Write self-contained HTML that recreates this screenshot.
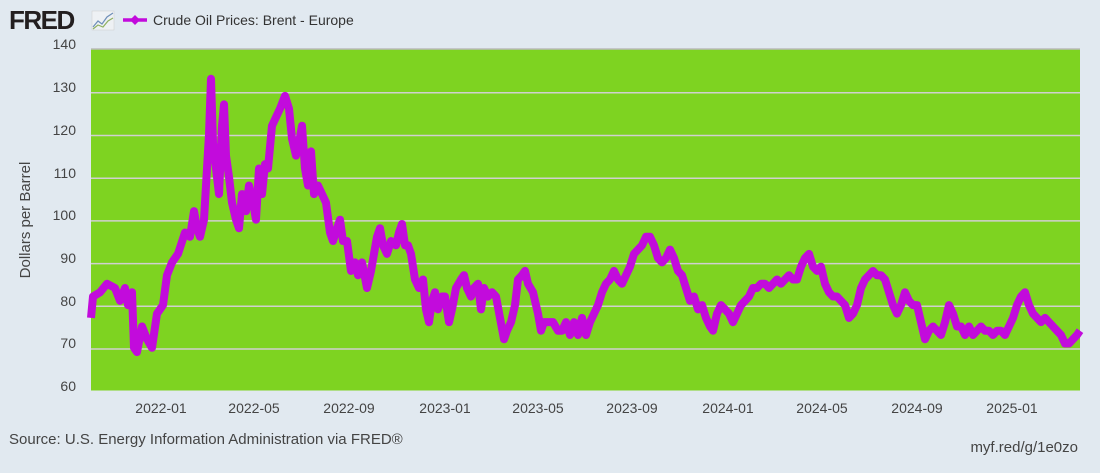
<!DOCTYPE html>
<html><head><meta charset="utf-8"><style>
body{margin:0;width:1100px;height:473px;background:#e1e9f0;font-family:"Liberation Sans",sans-serif;overflow:hidden}
</style></head><body>
<svg width="1100" height="473" xmlns="http://www.w3.org/2000/svg" style="position:absolute;left:0;top:0">
<text x="9" y="29" font-size="26" font-weight="bold" fill="#231f20" letter-spacing="-1.5">FRED</text>
<rect x="92" y="11" width="22" height="19" fill="#eef1f4" stroke="#ccc" stroke-width="0.5"/>
<polyline points="93,27 98,21 102,24 107,17 113,13" fill="none" stroke="#6f8fb8" stroke-width="1.2"/>
<polyline points="93,29 98,25 103,27 108,21 113,18" fill="none" stroke="#8fb060" stroke-width="1.2"/>
<line x1="123" y1="20" x2="147" y2="20" stroke="#c20bdc" stroke-width="3.5"/>
<polygon points="135,15 140,20 135,25 130,20" fill="#c20bdc"/>
<text x="153" y="25" font-size="14" fill="#333">Crude Oil Prices: Brent - Europe</text>
<rect x="91" y="49" width="989" height="341.5" fill="#7ed321"/>
<line x1="91" y1="49" x2="1080" y2="49" stroke="#bbb" stroke-width="1.5"/>
<g stroke="#d0d0d0" stroke-width="1.5">
<line x1="91" y1="92.8" x2="1080" y2="92.8"/><line x1="91" y1="135.5" x2="1080" y2="135.5"/>
<line x1="91" y1="178.2" x2="1080" y2="178.2"/><line x1="91" y1="220.9" x2="1080" y2="220.9"/>
<line x1="91" y1="263.6" x2="1080" y2="263.6"/><line x1="91" y1="306.3" x2="1080" y2="306.3"/>
<line x1="91" y1="349" x2="1080" y2="349"/>
</g>
<g font-size="14" fill="#444" text-anchor="end">
<text x="76" y="49">140</text><text x="76" y="92">130</text><text x="76" y="135">120</text>
<text x="76" y="178">110</text><text x="76" y="220">100</text><text x="76" y="263">90</text>
<text x="76" y="306">80</text><text x="76" y="348">70</text><text x="76" y="391">60</text>
</g>
<text transform="translate(30,220) rotate(-90)" font-size="15" fill="#444" text-anchor="middle">Dollars per Barrel</text>
<g font-size="14" fill="#444" text-anchor="middle">
<text x="161" y="413">2022-01</text><text x="254" y="413">2022-05</text><text x="349" y="413">2022-09</text>
<text x="445" y="413">2023-01</text><text x="538" y="413">2023-05</text><text x="632" y="413">2023-09</text>
<text x="728" y="413">2024-01</text><text x="822" y="413">2024-05</text><text x="917" y="413">2024-09</text>
<text x="1012" y="413">2025-01</text>
</g>
<text x="9" y="444" font-size="15" fill="#444">Source: U.S. Energy Information Administration via FRED®</text>
<text x="1078" y="452" font-size="15" fill="#444" text-anchor="end">myf.red/g/1e0zo</text>
<g transform="translate(0,390.5) scale(1,-4.27) translate(0,-60)">
<polyline fill="none" stroke="#c20bdc" stroke-width="8" stroke-linejoin="round" vector-effect="non-scaling-stroke" points="91,77 93,82 100,83 107,85 115,84 120,81 125,84 128,80 132,83 134,70 137,69 142,75 147,72 152,70 157,78 163,80 167,87 172,90 178,92 185,97 190,96 194,102 197,98 200,96 204,100 207,112 209,120 211,133 213,118 216,112 219,106 222,122 224,127 226,115 229,110 232,104 236,100 239,98 242,106 246,102 249,108 253,104 256,100 259,112 262,106 265,113 268,112 272,122 276,124 280,126 285,129 289,126 292,119 296,115 299,118 302,122 305,112 308,108 311,116 314,106 318,108 322,106 326,104 330,97 333,95 337,98 340,100 343,95 347,95 351,88 355,90 358,87 362,90 367,84 371,88 374,92 377,96 380,98 383,94 387,92 391,95 396,94 399,97 402,99 405,94 408,94 411,92 415,86 419,84 423,86 426,79 429,76 432,81 435,83 438,79 442,82 445,82 449,76 452,79 456,84 461,86 464,87 467,84 471,82 474,84 478,85 481,79 484,84 488,82 492,83 496,82 500,77 504,72 507,74 511,76 515,80 518,86 522,87 525,88 528,85 533,83 538,78 541,74 544,76 548,76 553,76 558,74 562,74 566,76 570,73 574,76 578,73 582,77 586,73 590,76 594,78 598,80 602,83 606,85 610,86 614,88 618,86 622,85 626,87 630,89 634,92 638,93 642,94 646,96 650,96 654,94 658,91 662,90 666,91 670,93 674,91 678,88 682,87 686,84 690,81 694,82 698,79 702,80 706,77 710,75 713,74 717,78 721,80 725,79 729,78 733,76 737,78 741,80 745,81 749,82 753,84 757,84 761,85 765,85 769,84 773,85 777,86 781,85 785,86 789,87 793,86 797,86 801,89 805,91 809,92 813,89 817,88 821,89 825,85 829,83 833,82 837,82 841,81 845,80 849,77 853,78 857,80 861,84 865,86 869,87 873,88 877,87 881,87 885,86 889,83 893,80 897,78 901,80 905,83 909,81 913,80 917,80 921,76 925,72 929,74 933,75 937,74 941,73 945,76 949,80 953,78 957,75 961,75 965,73 969,75 973,73 977,74 981,75 985,74 989,74 993,73 997,74 1001,74 1005,73 1009,75 1013,77 1017,80 1021,82 1025,83 1029,80 1033,78 1037,77 1041,76 1045,77 1049,76 1053,75 1057,74 1061,73 1065,71 1069,71 1073,72 1077,73 1080,74"/>
</g>
</svg>
</body></html>
